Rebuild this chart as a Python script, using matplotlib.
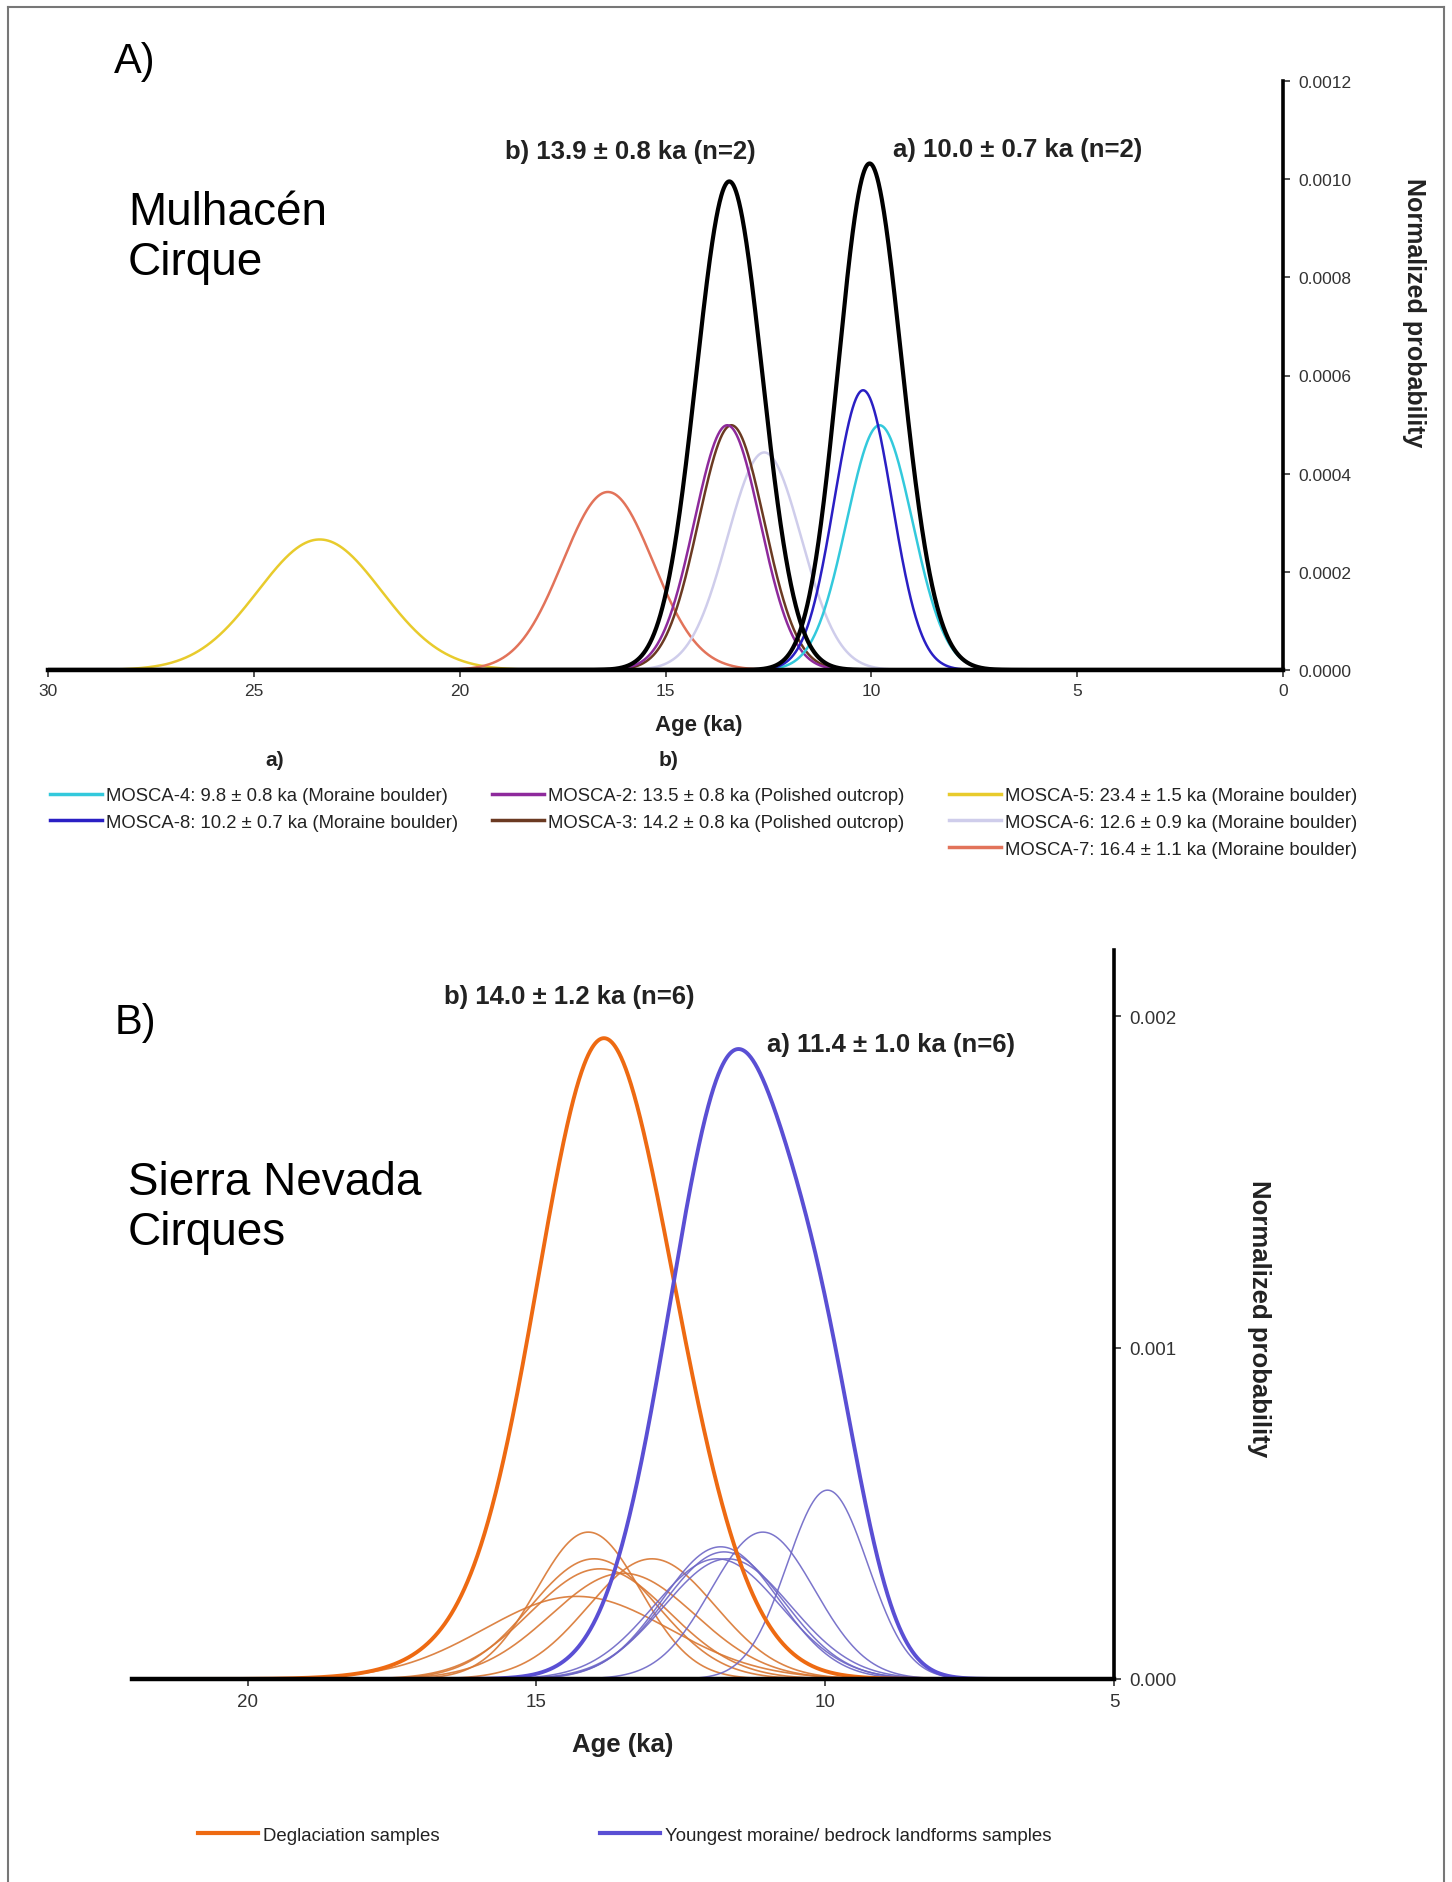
import numpy as np
import matplotlib
matplotlib.use("Agg")
import matplotlib.pyplot as plt
from matplotlib.lines import Line2D
from matplotlib.ticker import FormatStrFormatter

plt.rcParams['font.family'] = ['Liberation Sans', 'DejaVu Sans']

# ---------------- Data: panel A (Mulhacén Cirque) ----------------
a_names = ["MOSCA-4", "MOSCA-8", "MOSCA-2", "MOSCA-3", "MOSCA-5", "MOSCA-6", "MOSCA-7"]
a_label_age = ["9.8 ± 0.8", "10.2 ± 0.7", "13.5 ± 0.8", "14.2 ± 0.8", "23.4 ± 1.5", "12.6 ± 0.9", "16.4 ± 1.1"]
a_landform = ["Moraine boulder", "Moraine boulder", "Polished outcrop", "Polished outcrop",
              "Moraine boulder", "Moraine boulder", "Moraine boulder"]
# curve centres / widths (ka)
a_mean = [9.8, 10.2, 13.5, 13.4, 23.4, 12.6, 16.4]
a_sigma = [0.8, 0.7, 0.8, 0.8, 1.5, 0.9, 1.1]
a_colors = ["#33C9DC", "#2A1FC4", "#8E2A9C", "#6B3A22", "#E8CB2C", "#CFCDEB", "#E2735A"]
a_group_a = [0, 1]   # summed -> a)
a_group_b = [2, 3]   # summed -> b)
a_sum_labels = ["a) 10.0 ± 0.7 ka (n=2)", "b) 13.9 ± 0.8 ka (n=2)"]
a_xticks = [30, 25, 20, 15, 10, 5, 0]
a_yticks = [0.0, 0.0002, 0.0004, 0.0006, 0.0008, 0.0010, 0.0012]

# ---------------- Data: panel B (Sierra Nevada Cirques) ----------------
b_degl_mean = [14.1, 14.0, 13.0, 13.9, 13.5, 14.3]
b_degl_sigma = [0.9, 1.1, 1.1, 1.2, 1.25, 1.6]
b_young_mean = [9.96, 11.08, 11.81, 11.75, 11.69, 11.87]
b_young_sigma = [0.7, 0.9, 1.0, 1.04, 1.1, 1.1]
b_sum_labels = ["b) 14.0 ± 1.2 ka (n=6)", "a) 11.4 ± 1.0 ka (n=6)"]
b_legend = ["Deglaciation samples", "Youngest moraine/ bedrock landforms samples"]
b_xticks = [20, 15, 10, 5]
b_yticks = [0.0, 0.001, 0.002]


def pdf(x, mu, s):
    # normalized probability per year (ages in ka)
    return np.exp(-0.5 * ((x - mu) / s) ** 2) / (s * 1000 * np.sqrt(2 * np.pi))


W, H = 1452, 1883
fig = plt.figure(figsize=(W / 100, H / 100), dpi=100)
fig.patch.set_facecolor("white")

# figure border
for xs, ys in [([8 / W, 1444 / W], [1 - 8 / H, 1 - 8 / H]),
               ([8 / W, 8 / W], [1 - 8 / H, 0]),
               ([1444 / W, 1444 / W], [1 - 8 / H, 0])]:
    fig.add_artist(Line2D(xs, ys, color="#777777", lw=1.5, transform=fig.transFigure))

TICK_COLOR = "#333333"
TEXT_COLOR = "#222222"

# ================= Panel A =================
axA = fig.add_axes([48 / W, 1 - 671 / H, 1235 / W, 589 / H])
xA = np.linspace(30, 0, 3000)
curvesA = []
for i in range(len(a_names)):
    y = pdf(xA, a_mean[i], a_sigma[i])
    curvesA.append(y)
order = [4, 6, 5, 3, 2, 0, 1]
handlesA = {}
for i in order:
    ln, = axA.plot(xA, curvesA[i], color=a_colors[i], lw=1.8,
                   label=f"{a_names[i]}: {a_label_age[i]} ka ({a_landform[i]})")
    handlesA[i] = ln
sum_a = sum(curvesA[i] for i in a_group_a)
sum_b = sum(curvesA[i] for i in a_group_b)
axA.plot(xA, sum_a, color="black", lw=3.0)
axA.plot(xA, sum_b, color="black", lw=3.0)

axA.set_xlim(30, 0)
axA.set_ylim(0, 0.0012)
axA.spines['left'].set_visible(False)
axA.spines['top'].set_visible(False)
axA.spines['right'].set_linewidth(2.6)
axA.spines['bottom'].set_linewidth(3.2)
axA.spines['right'].set_zorder(5)
axA.spines['bottom'].set_zorder(5)
axA.yaxis.tick_right()
axA.set_yticks(a_yticks)
axA.yaxis.set_major_formatter(FormatStrFormatter('%.4f'))
axA.set_xticks(a_xticks)
axA.tick_params(axis='both', labelsize=12.5, colors=TICK_COLOR, length=5, width=1.2)
axA.tick_params(axis='x', pad=4)
axA.tick_params(axis='y', pad=6)
axA.patch.set_alpha(0)

axA.text(14.2, -0.000112, "Age (ka)", ha="center", va="center", fontsize=16,
         fontweight="bold", color=TEXT_COLOR, transform=axA.transData)
axA.text(1.106, 0.608, "Normalized probability", rotation=270, ha="center", va="center",
         fontsize=18, fontweight="bold", color=TEXT_COLOR, transform=axA.transAxes)

fig.text(135 / W, 1 - 62 / H, "A)", fontsize=30, ha="center", va="center")
fig.text(128 / W, 1 - 238 / H, "Mulhacén\nCirque", fontsize=33, ha="left", va="center",
         linespacing=1.15)
fig.text(630 / W, 1 - 152 / H, a_sum_labels[1], fontsize=18.5, fontweight="bold",
         ha="center", va="center", color=TEXT_COLOR)
fig.text(1018 / W, 1 - 150 / H, a_sum_labels[0], fontsize=18.5, fontweight="bold",
         ha="center", va="center", color=TEXT_COLOR)

# legend headers
fig.text(275 / W, 1 - 761 / H, "a)", fontsize=15, fontweight="bold", ha="center", va="center",
         color=TEXT_COLOR)
fig.text(669 / W, 1 - 761 / H, "b)", fontsize=15, fontweight="bold", ha="center", va="center",
         color=TEXT_COLOR)

leg_kw = dict(frameon=False, fontsize=13.3, handlelength=2.8, handletextpad=0.25,
              labelspacing=0.53, borderpad=0, borderaxespad=0, loc="upper left",
              bbox_transform=fig.transFigure)
cols = [([0, 1], 50), ([2, 3], 492), ([4, 5, 6], 949)]
for idxs, xpix in cols:
    lg = fig.legend([handlesA[i] for i in idxs], [handlesA[i].get_label() for i in idxs],
                    bbox_to_anchor=(xpix / W, 1 - 788 / H), **leg_kw)
    for t in lg.get_texts():
        t.set_color(TEXT_COLOR)
    for l in lg.get_lines():
        l.set_linewidth(2.5)

# ================= Panel B =================
axB = fig.add_axes([132 / W, 1 - 1680 / H, 982 / W, 729 / H])
xB = np.linspace(22, 5, 3000)
degl = [pdf(xB, m, s) for m, s in zip(b_degl_mean, b_degl_sigma)]
young = [pdf(xB, m, s) for m, s in zip(b_young_mean, b_young_sigma)]
for y in degl:
    axB.plot(xB, y, color="#D97732", lw=1.2, alpha=0.9)
for y in young:
    axB.plot(xB, y, color="#6D66C6", lw=1.1, alpha=0.9)
lnD, = axB.plot(xB, sum(degl), color="#EE6A12", lw=2.8)
lnY, = axB.plot(xB, sum(young), color="#5A4FD4", lw=2.8)

axB.set_xlim(22, 5)
axB.set_ylim(0, 0.0022)
axB.spines['left'].set_visible(False)
axB.spines['top'].set_visible(False)
axB.spines['right'].set_linewidth(2.6)
axB.spines['bottom'].set_linewidth(3.2)
axB.spines['right'].set_zorder(5)
axB.spines['bottom'].set_zorder(5)
axB.yaxis.tick_right()
axB.set_yticks(b_yticks)
axB.yaxis.set_major_formatter(FormatStrFormatter('%.3f'))
axB.set_xticks(b_xticks)
axB.tick_params(axis='both', labelsize=13.5, colors=TICK_COLOR, length=5, width=1.2)
axB.tick_params(axis='x', pad=5)
axB.tick_params(axis='y', pad=6)
axB.patch.set_alpha(0)

axB.text(13.5, -0.000195, "Age (ka)", ha="center", va="center", fontsize=18.5,
         fontweight="bold", color=TEXT_COLOR, transform=axB.transData)
axB.text((1259 - 132) / 982, (1680 - 1319) / 729, "Normalized probability", rotation=270,
         ha="center", va="center", fontsize=18.5, fontweight="bold", color=TEXT_COLOR,
         transform=axB.transAxes)

fig.text(135 / W, 1 - 1023 / H, "B)", fontsize=30, ha="center", va="center")
fig.text(128 / W, 1 - 1208 / H, "Sierra Nevada\nCirques", fontsize=33, ha="left",
         va="center", linespacing=1.2)
fig.text(569 / W, 1 - 997 / H, b_sum_labels[0], fontsize=18.5, fontweight="bold",
         ha="center", va="center", color=TEXT_COLOR)
fig.text(891 / W, 1 - 1045 / H, b_sum_labels[1], fontsize=18.5, fontweight="bold",
         ha="center", va="center", color=TEXT_COLOR)

legB_kw = dict(frameon=False, fontsize=13.4, handlelength=3.2, handletextpad=0.3,
               borderpad=0, borderaxespad=0, loc="center left",
               bbox_transform=fig.transFigure)
for ln, lab, xpix in [(lnD, b_legend[0], 198), (lnY, b_legend[1], 600)]:
    lg = fig.legend([ln], [lab], bbox_to_anchor=(xpix / W, 1 - 1836 / H), **legB_kw)
    for t in lg.get_texts():
        t.set_color(TEXT_COLOR)
    for l in lg.get_lines():
        l.set_linewidth(3)

fig.savefig("out.png", dpi=100, facecolor="white")
